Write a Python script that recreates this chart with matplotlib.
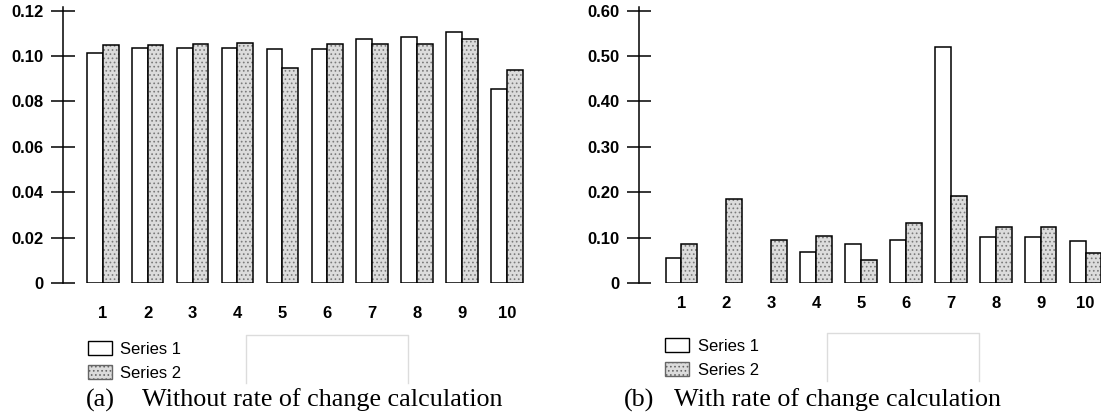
"""Two grouped bar panels: series 1 vs series 2, without / with rate of change."""
import numpy as np
import matplotlib
matplotlib.use("Agg")
import matplotlib.pyplot as plt
from matplotlib.patches import Patch
from matplotlib.lines import Line2D

CATS = ["1", "2", "3", "4", "5", "6", "7", "8", "9", "10"]

# (a) without rate of change calculation
S1_A = [0.1015, 0.1037, 0.1034, 0.1034, 0.1032, 0.1030, 0.1076, 0.1084, 0.1107, 0.0856]
S2_A = [0.1050, 0.1050, 0.1054, 0.1057, 0.0947, 0.1053, 0.1053, 0.1053, 0.1076, 0.0938]
YT_A = [0, 0.02, 0.04, 0.06, 0.08, 0.10, 0.12]
YL_A = ["0", "0.02", "0.04", "0.06", "0.08", "0.10", "0.12"]

# (b) with rate of change calculation
S1_B = [0.054, 0.0, 0.0, 0.068, 0.087, 0.095, 0.521, 0.102, 0.102, 0.093]
S2_B = [0.085, 0.184, 0.095, 0.103, 0.051, 0.133, 0.191, 0.124, 0.124, 0.066]
YT_B = [0, 0.10, 0.20, 0.30, 0.40, 0.50, 0.60]
YL_B = ["0", "0.10", "0.20", "0.30", "0.40", "0.50", "0.60"]

SANS = ["Liberation Sans", "DejaVu Sans"]
SERIF = ["Liberation Serif", "DejaVu Serif"]
plt.rcParams["hatch.linewidth"] = 0.7

W = 0.35
STIPPLE = dict(facecolor="#dcdcdc", edgecolor="#7a7a7a", hatch="....", linewidth=0)

fig = plt.figure(figsize=(11.01, 4.15), dpi=100)


def panel(rect, xlim, ytop, s1, s2, yt, yl, xpad):
    ax = fig.add_axes(rect)
    x = np.arange(len(CATS))
    s1 = np.asarray(s1)
    s2 = np.asarray(s2)
    keep = s1 > 0
    ax.bar(x[keep] - W / 2, s1[keep], W, facecolor="white",
           edgecolor="black", linewidth=1.1)
    ax.bar(x + W / 2, s2, W, **STIPPLE)
    ax.bar(x + W / 2, s2, W, fill=False, edgecolor="black", linewidth=1.1)
    ax.set_xlim(*xlim)
    ax.set_ylim(0, ytop)
    for s in ("top", "right", "bottom"):
        ax.spines[s].set_visible(False)
    ax.spines["left"].set_linewidth(1.1)
    ax.spines["left"].set_bounds(0, ytop)
    ax.set_yticks(yt)
    ax.set_yticklabels(yl, fontsize=12, family=SANS, fontweight="bold")
    ax.tick_params(axis="y", direction="inout", length=17.2, width=1.1, pad=5.3)
    ax.set_xticks(x)
    ax.set_xticklabels(CATS, fontsize=12, family=SANS, fontweight="bold")
    ax.tick_params(axis="x", length=0, pad=xpad)
    return ax


H = 276 / 415
B = 1 - 283 / 415
STEP = 44.9
panel([63.1 / 1101, B, 470 / 1101, H], (-0.884, -0.884 + 470 / STEP),
      0.12 * 276 / 272.3, S1_A, S2_A, YT_A, YL_A, 16.5)
panel([639.1 / 1101, B, 461.9 / 1101, H], (-0.944, -0.944 + 461.9 / STEP),
      0.60 * 276 / 272.3, S1_B, S2_B, YT_B, YL_B, 9.4)

handles = [Patch(facecolor="white", edgecolor="black", linewidth=1),
           Patch(facecolor="#dcdcdc", edgecolor="#666666", hatch="....",
                 linewidth=1)]
names = ["Series 1", "Series 2"]
for lx, ly in ((88 / 1101, 1 - 341 / 415), (665 / 1101, 1 - 338 / 415)):
    fig.legend(handles, names, loc="upper left", bbox_to_anchor=(lx, ly),
               frameon=False, borderpad=0, borderaxespad=0,
               handlelength=1.45, handleheight=0.9, handletextpad=0.5,
               labelspacing=0.52, prop={"family": SANS, "size": 12})

# faint scan frames beside the legends
for x0, x1, y0, y1 in ((246, 408, 335, 383), (827, 979, 333, 381)):
    xs = [x0 / 1101, x0 / 1101, x1 / 1101, x1 / 1101]
    ys = [1 - y1 / 415, 1 - y0 / 415, 1 - y0 / 415, 1 - y1 / 415]
    fig.add_artist(Line2D(xs, ys, color="#dcdcdc", lw=1))

cy = 1 - 400 / 415
CAP = 18.8
fig.text(86 / 1101, cy, "(a)", fontsize=CAP, family=SERIF, va="center")
fig.text(142 / 1101, cy, "Without rate of change calculation", fontsize=CAP,
         family=SERIF, va="center")
fig.text(624 / 1101, cy, "(b)", fontsize=CAP, family=SERIF, va="center")
fig.text(674 / 1101, cy, "With rate of change calculation", fontsize=CAP,
         family=SERIF, va="center")

fig.savefig("out.png", dpi=100)
